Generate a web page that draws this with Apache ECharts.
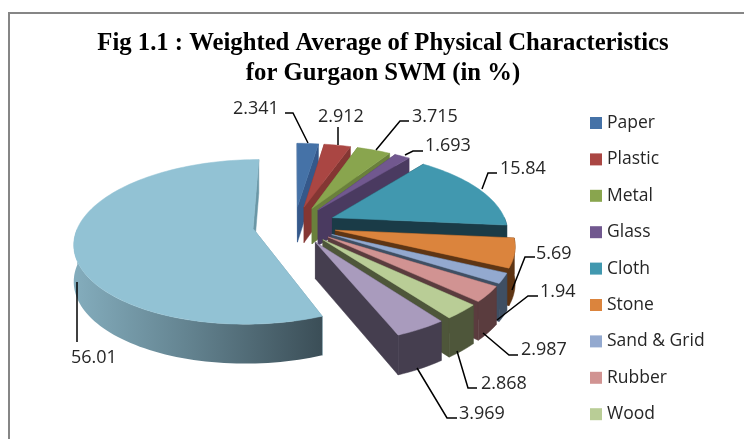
<!DOCTYPE html>
<html><head><meta charset="utf-8">
<style>html,body{margin:0;padding:0;background:#fff}#c{width:744px;height:439px}</style>
<script src="https://cdn.jsdelivr.net/npm/echarts@6/dist/echarts.min.js"></script></head>
<body><div id="c"></div>
<script>
// Data. The last two legend rows fall outside the crop.
const categories = ['Paper','Plastic','Metal','Glass','Cloth','Stone','Sand & Grid','Rubber','Wood','Item 10','Item 11'];
const values = [2.341,2.912,3.715,1.693,15.84,5.69,1.94,2.987,2.868,3.969,56.01];
const valueLabels = ['2.341','2.912','3.715','1.693','15.84','5.69','1.94','2.987','2.868','3.969','56.01'];
const legendNames = ['Paper','Plastic','Metal','Glass','Cloth','Stone','Sand & Grid','Rubber','Wood'];

const topColors  = ['#4572a7','#aa4643','#89a54e','#71588f','#4198af','#db843d','#93a9cf','#d19392','#b9cd96','#a99bbd','#92c2d4'];
const wallColors = ['#35588a','#843633','#6a803c','#4a3a60','#1a3b47','#5e3514','#3f4f63','#5a3c3e','#4e563a','#453e4f','#6a97a6'];

// Perspective projection of the exploded pie
const G = {cx:294.5, cy:225, A:174.5, B:79, p:0.16, explode:0.24, depth:36};
function proj(wx, wy, down){
  const s = 1/(1-G.p*wy);
  return [G.cx+G.A*wx*s, G.cy+G.B*wy*s+(down?G.depth*Math.sqrt(s):0)];
}
const total = values.reduce((a,b)=>a+b,0);
let acc = 0;
const slices = values.map(v=>{
  const a0 = acc/total*Math.PI*2; acc += v;
  const a1 = acc/total*Math.PI*2;
  const m = (a0+a1)/2;
  return {a0,a1,ox:Math.sin(m)*G.explode,oy:-Math.cos(m)*G.explode};
});
function rim(sl,a,down){ return proj(sl.ox+Math.sin(a),sl.oy-Math.cos(a),down); }
function apex(sl,down){ return proj(sl.ox,sl.oy,down); }
function arc(sl,a0,a1,down){
  const n=Math.max(2,Math.ceil((a1-a0)/0.03)), out=[];
  for(let i=0;i<=n;i++) out.push(rim(sl,a0+(a1-a0)*i/n,down));
  return out;
}
function poly(points,fill){ return {type:'polygon',shape:{points},style:{fill,stroke:fill,lineWidth:0.5}}; }

function renderSlice(i){
  const sl=slices[i], wall=wallColors[i], top=topColors[i], kids=[];
  for(const a of [sl.a0,sl.a1]){
    kids.push(poly([apex(sl,false),rim(sl,a,false),rim(sl,a,true),apex(sl,true)],wall));
  }
  const lo=Math.max(sl.a0,Math.PI/2), hi=Math.min(sl.a1,Math.PI*1.5);
  if(hi>lo){
    const up=arc(sl,lo,hi,false), dn=arc(sl,lo,hi,true).reverse();
    if(i===values.length-1){
      const fill=new echarts.graphic.LinearGradient(0,0,1,0,[{offset:0,color:'#84adbd'},{offset:0.45,color:'#648491'},{offset:1,color:'#3b4e57'}]);
      kids.push({type:'polygon',shape:{points:up.concat(dn)},style:{fill}});
    } else kids.push(poly(up.concat(dn),wall));
  }
  kids.push(poly([apex(sl,false)].concat(arc(sl,sl.a0,sl.a1,false)),top));
  return {type:'group',children:kids};
}

const leaderStyle={stroke:'#000',lineWidth:1.5,fill:null};
const labelAt = [
  {mid:[293,113],end:[285,113],tx:233,ty:100},
  {mid:[338,127],end:[338,127],tx:318,ty:108},
  {mid:[400,121],end:[409,121],tx:412,ty:108},
  {mid:[413,151],end:[423,151],tx:425,ty:137},
  {mid:[488,173],end:[497,173],tx:500,ty:160},
  {mid:[525,257],end:[535,257],tx:536,ty:245},
  {mid:[528,296],end:[538,296],tx:540,ty:283},
  {mid:[509,355],end:[518,355],tx:521,ty:341},
  {mid:[468,388],end:[477,388],tx:481,ty:375},
  {mid:[447,418],end:[457,418],tx:459,ty:405},
  {mid:[77,342],end:[77,342],tx:71,ty:349}
];
const leaderStart = [[308,143],[338,145],[376,150],[405,155],[482,189],[512,290],[497,320],[483,333],[457,351],[417,368],[77,282]];

const series = categories.map((name,i)=>({
  type:'custom', name, coordinateSystem:'none', silent:true, animation:false,
  itemStyle:{color:topColors[i]},
  data:[values[i]],
  renderItem:()=>renderSlice(i)
}));
series.push({
  type:'custom', name:'labels', coordinateSystem:'none', silent:true, animation:false,
  data:values,
  renderItem:(p)=>{
    const i=p.dataIndex, L=labelAt[i];
    return {type:'group',children:[
      {type:'polyline',shape:{points:[leaderStart[i],L.mid,L.end]},style:leaderStyle},
      {type:'text',style:{x:L.tx,y:L.ty,text:valueLabels[i],fill:'#262626',font:'18px "Open Sans", "Noto Sans", sans-serif',textAlign:'left',textVerticalAlign:'top'}}
    ]};
  }
});

const chart=echarts.init(document.getElementById('c'),null,{renderer:'canvas'});
chart.setOption({
  animation:false,
  backgroundColor:'#fff',
  title:{text:'Fig 1.1 : Weighted Average of Physical Characteristics\nfor Gurgaon SWM (in %)',left:378,top:24,textAlign:'center',
    textStyle:{fontFamily:'"Liberation Serif",serif',fontWeight:'bold',fontSize:24.7,lineHeight:30,color:'#000'}},
  legend:{data:legendNames,orient:'vertical',left:585,top:109,itemWidth:12,itemHeight:12,itemGap:18.4,
    textStyle:{fontFamily:'"Open Sans","Noto Sans",sans-serif',fontSize:17.5,color:'#262626',padding:[0,0,0,0]},selectedMode:false,icon:'rect'},
  graphic:[{type:'rect',shape:{x:9,y:13,width:760,height:460},style:{fill:'none',stroke:'#868686',lineWidth:2},silent:true}],
  series
});
</script></body></html>
